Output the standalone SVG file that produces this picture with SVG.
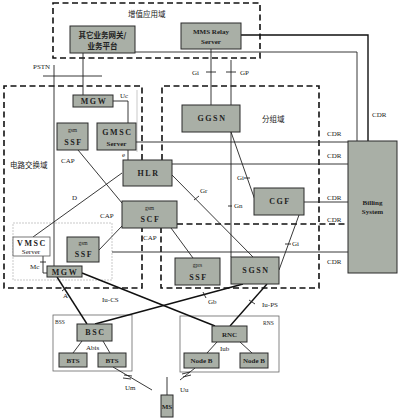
<svg xmlns="http://www.w3.org/2000/svg" width="400" height="420" viewBox="0 0 400 420">
<style>
.n{fill:#a9afa6;stroke:#2a2a2a;stroke-width:1}
.w{fill:#fff;stroke:#555;stroke-width:0.8}
.bx{fill:none;stroke:#666;stroke-width:0.8}
.dash{fill:none;stroke:#111;stroke-width:1.6;stroke-dasharray:6 3.5}
.c{fill:none;stroke:#222;stroke-width:0.9}
.ct{fill:none;stroke:#111;stroke-width:1.4}
.g{fill:none;stroke:#bbb;stroke-width:0.8}
.t{font-family:"Liberation Serif",serif;font-size:7px;fill:#222}
.tb{font-family:"Liberation Serif",serif;font-size:8px;font-weight:bold;fill:#222;letter-spacing:1.6px}
.ts{font-family:"Liberation Serif",serif;font-size:5.5px;fill:#222}
.cj{font-family:"Noto Sans CJK SC",sans-serif;font-size:7.5px;fill:#222}
.cjb{font-family:"Noto Sans CJK SC",sans-serif;font-size:7.5px;font-weight:bold;fill:#222}
</style>
<rect width="400" height="420" fill="#fff"/>
<g id="domains">
<rect class="dash" x="53" y="3" width="207" height="55"/>
<path class="dash" d="M142,160 V86 H4 V288 H142 V228"/>
<path class="dash" d="M162,160 V86 H319 V288 H161 V228"/>
<path class="dash" d="M177,224 H348"/>
<rect class="g" x="13" y="223" width="99" height="57" stroke-dasharray="2 1"/>
<path class="g" d="M137,90 V152"/>
<rect class="bx" x="53" y="315" width="79" height="56"/>
<rect class="bx" x="180" y="316" width="99" height="56"/>
</g>
<g id="connectors">
<polyline class="c" points="135,52 357,52 357,141"/>
<polyline class="ct" points="241,35 368,35 368,141"/>
<line class="c" x1="83" y1="53" x2="83" y2="95"/>
<line class="c" x1="54" y1="65" x2="54" y2="266"/>
<line class="c" x1="43" y1="76" x2="102" y2="76"/>
<polyline class="c" points="113,101 128,101 128,123"/>
<line class="c" x1="128" y1="150" x2="128" y2="160"/>
<line class="c" x1="136" y1="142" x2="348" y2="142"/>
<line class="c" x1="172" y1="164" x2="348" y2="164"/>
<line class="c" x1="78" y1="150" x2="122" y2="203"/>
<line class="c" x1="122" y1="173" x2="33" y2="237"/>
<line class="c" x1="99" y1="250" x2="122" y2="226"/>
<line class="c" x1="171" y1="228" x2="193" y2="258"/>
<line class="c" x1="112" y1="252" x2="348" y2="252"/>
<polyline class="c" points="43,256 43,273 47,273"/>
<line class="c" x1="40" y1="262" x2="46" y2="262"/>
<line class="c" x1="211" y1="49" x2="211" y2="105"/>
<line class="c" x1="206" y1="72" x2="216" y2="72"/>
<line class="c" x1="231" y1="60" x2="231" y2="105"/>
<line class="c" x1="226" y1="72" x2="236" y2="72"/>
<line class="c" x1="231" y1="132" x2="255" y2="200"/>
<line class="c" x1="244" y1="178" x2="250" y2="178"/>
<line class="c" x1="231" y1="132" x2="231" y2="257"/>
<line class="c" x1="228" y1="206" x2="232" y2="206"/>
<line class="c" x1="172" y1="175" x2="253" y2="257"/>
<line class="c" x1="194" y1="200" x2="199" y2="196"/>
<line class="c" x1="304" y1="202" x2="348" y2="202"/>
<line class="c" x1="279" y1="270" x2="299" y2="215"/>
<line class="c" x1="285" y1="244" x2="291" y2="244"/>
<line class="ct" x1="57" y1="277" x2="87" y2="324"/>
<line class="c" x1="62" y1="291" x2="67" y2="287"/>
<line class="ct" x1="82" y1="273" x2="215" y2="326"/>
<line class="ct" x1="243" y1="284" x2="95" y2="324"/>
<line class="c" x1="203" y1="292" x2="206" y2="298"/>
<line class="ct" x1="267" y1="284" x2="230" y2="326"/>
<line class="c" x1="249" y1="300" x2="255" y2="304"/>
<line class="c" x1="82" y1="341" x2="73" y2="353"/>
<line class="c" x1="103" y1="341" x2="110" y2="353"/>
<line class="c" x1="217" y1="342" x2="207" y2="353"/>
<line class="c" x1="240" y1="342" x2="252" y2="353"/>
<line class="c" x1="113" y1="367" x2="152" y2="390"/>
<line class="c" x1="124" y1="375" x2="132" y2="376"/>
<line class="c" x1="123" y1="378" x2="131" y2="379"/>
<line class="c" x1="195" y1="368" x2="180" y2="380"/>
<line class="c" x1="182" y1="374" x2="190" y2="372"/>
<line class="c" x1="183" y1="377" x2="191" y2="375"/>
<line class="c" x1="167" y1="377" x2="167" y2="395"/>
</g>
<g id="labels">
<text class="cj" x="128" y="17">增值应用域</text>
<text class="t" x="33" y="69">PSTN</text>
<text class="t" x="120" y="98">Uc</text>
<text class="t" x="122" y="157">e</text>
<text class="t" x="61" y="163">CAP</text>
<text class="cj" x="10" y="168">电路交换域</text>
<text class="t" x="72" y="200">D</text>
<text class="t" x="100" y="218">CAP</text>
<text class="t" x="143" y="240">CAP</text>
<text class="t" x="30" y="269">Mc</text>
<text class="t" x="192" y="75">Gi</text>
<text class="t" x="240" y="75">GP</text>
<text class="cj" x="262" y="122">分组域</text>
<text class="t" x="237" y="180">Gi</text>
<text class="t" x="234" y="208">Gn</text>
<text class="t" x="200" y="193">Gr</text>
<text class="t" x="292" y="246">Gi</text>
<text class="t" x="372" y="117">CDR</text>
<text class="t" x="327" y="136">CDR</text>
<text class="t" x="327" y="158">CDR</text>
<text class="t" x="327" y="200">CDR</text>
<text class="t" x="327" y="222">CDR</text>
<text class="t" x="327" y="264">CDR</text>
<text class="t" x="63" y="298">A</text>
<text class="t" x="102" y="302">Iu-CS</text>
<text class="t" x="208" y="304">Gb</text>
<text class="t" x="262" y="307">Iu-PS</text>
<text class="ts" x="55" y="324" font-size="6">BSS</text>
<text class="ts" x="263" y="325" font-size="6">RNS</text>
<text class="t" x="86" y="350">Abis</text>
<text class="t" x="220" y="351">Iub</text>
<text class="t" x="125" y="390">Um</text>
<text class="t" x="180" y="392">Uu</text>
</g>
<g id="n-other"><rect class="n" x="70" y="26" width="65" height="27"/><text class="cjb" x="102.5" y="38" text-anchor="middle">其它业务网关/</text><text class="cjb" x="102.5" y="49" text-anchor="middle">业务平台</text></g>
<g id="n-mms"><rect class="n" x="181" y="23" width="60" height="26"/><text class="t" x="211" y="34" text-anchor="middle" font-weight="bold">MMS Relay</text><text class="t" x="211" y="44" text-anchor="middle" font-weight="bold">Server</text></g>
<g id="n-mgw1"><rect class="n" x="73" y="95" width="40" height="12"/><text class="tb" x="94" y="104" text-anchor="middle">MGW</text></g>
<g id="n-ssf1"><rect class="n" x="57" y="123" width="31" height="27"/><text class="ts" x="72.5" y="132" text-anchor="middle">gsm</text><text class="tb" x="73.5" y="145" text-anchor="middle">SSF</text></g>
<g id="n-gmsc"><rect class="n" x="97" y="123" width="39" height="27"/><text class="tb" x="117.5" y="135" text-anchor="middle" font-size="7.5px">GMSC</text><text class="t" x="116.5" y="146" text-anchor="middle" font-weight="bold">Server</text></g>
<g id="n-hlr"><rect class="n" x="123" y="160" width="49" height="26"/><text class="tb" x="148.5" y="176" text-anchor="middle">HLR</text></g>
<g id="n-scf"><rect class="n" x="122" y="201" width="55" height="27"/><text class="ts" x="149.5" y="210" text-anchor="middle">gsm</text><text class="tb" x="150.5" y="222" text-anchor="middle">SCF</text></g>
<g id="n-vmsc"><rect class="w" x="13" y="237" width="37" height="19"/><text class="tb" x="32" y="246" text-anchor="middle" font-size="6.5px" letter-spacing="1px">VMSC</text><text class="t" x="31" y="254" text-anchor="middle" font-size="6.5px">Server</text></g>
<g id="n-ssf2"><rect class="n" x="67" y="237" width="32" height="25"/><text class="ts" x="83" y="245" text-anchor="middle">gsm</text><text class="tb" x="84" y="257" text-anchor="middle">SSF</text></g>
<g id="n-mgw2"><rect class="n" x="47" y="266" width="35" height="11"/><text class="tb" x="65" y="274.5" text-anchor="middle" font-size="6.5px">MGW</text></g>
<g id="n-ggsn"><rect class="n" x="182" y="105" width="58" height="27"/><text class="tb" x="212" y="121" text-anchor="middle">GGSN</text></g>
<g id="n-cgf"><rect class="n" x="254" y="188" width="50" height="27"/><text class="tb" x="280" y="204" text-anchor="middle">CGF</text></g>
<g id="n-gprs"><rect class="n" x="175" y="258" width="45" height="27"/><text class="ts" x="197.5" y="267" text-anchor="middle">gprs</text><text class="tb" x="198.5" y="280" text-anchor="middle">SSF</text></g>
<g id="n-sgsn"><rect class="n" x="231" y="257" width="48" height="27"/><text class="tb" x="256" y="273" text-anchor="middle">SGSN</text></g>
<g id="n-billing"><rect class="n" x="348" y="141" width="49" height="132" fill="#8f978d"/><text class="t" x="372.5" y="205" text-anchor="middle" font-weight="bold">Billing</text><text class="t" x="372.5" y="214" text-anchor="middle" font-weight="bold">System</text></g>
<g id="n-bsc"><rect class="n" x="77" y="324" width="35" height="17"/><text class="tb" x="95.5" y="335" text-anchor="middle">BSC</text></g>
<g id="n-bts1"><rect class="n" x="59" y="353" width="28" height="14"/><text class="t" x="73" y="363" text-anchor="middle" font-weight="bold">BTS</text></g>
<g id="n-bts2"><rect class="n" x="98" y="353" width="28" height="14"/><text class="t" x="112" y="363" text-anchor="middle" font-weight="bold">BTS</text></g>
<g id="n-rnc"><rect class="n" x="212" y="326" width="35" height="16"/><text class="t" x="229.5" y="337" text-anchor="middle" font-weight="bold">RNC</text></g>
<g id="n-nodeb1"><rect class="n" x="184" y="353" width="35" height="15" /><text class="t" x="201.5" y="363" text-anchor="middle" font-weight="bold">Node B</text></g>
<g id="n-nodeb2"><rect class="n" x="240" y="353" width="28" height="15"/><text class="t" x="254" y="363" text-anchor="middle" font-weight="bold">Node B</text></g>
<g id="n-ms"><rect class="n" x="161" y="395" width="12" height="22"/><text class="t" x="167" y="409" text-anchor="middle" font-weight="bold" font-size="6px">MS</text></g>
</svg>
